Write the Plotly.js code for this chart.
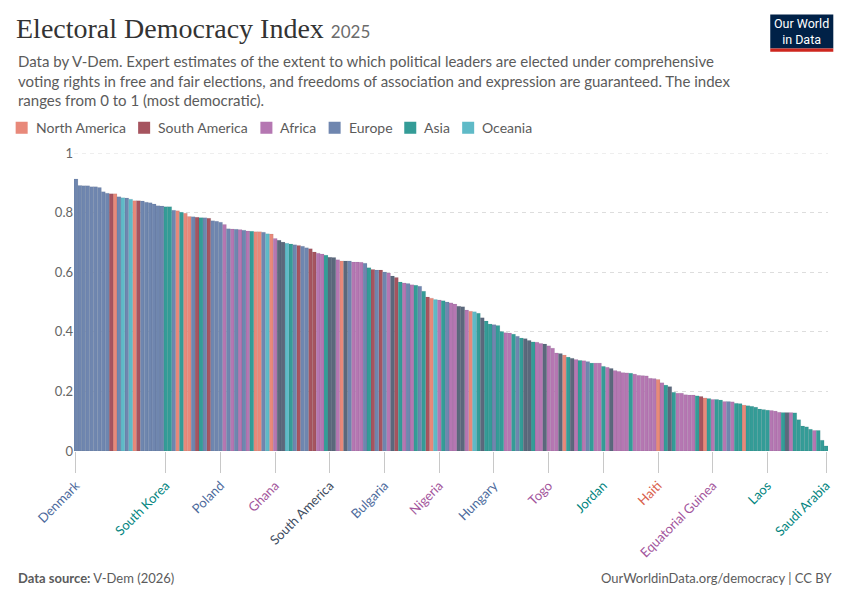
<!DOCTYPE html>
<html>
<head>
<meta charset="utf-8">
<script src="https://cdn.plot.ly/plotly-3.0.1.min.js"></script>
<style>
  html, body { margin: 0; padding: 0; background: #ffffff; }
  #chart { width: 850px; height: 600px; }
</style>
</head>
<body>
<div id="chart"></div>
<script>
// ---------- DATA ----------
// Bars are ranked from most to least democratic (rank 0 = Denmark, rank 192 = Saudi Arabia)
const values = [
  0.913,0.891,0.890,0.890,0.887,0.887,0.884,0.870,0.865,0.863,
  0.863,0.853,0.850,0.849,0.845,0.840,0.840,0.839,0.835,0.833,
  0.829,0.823,0.822,0.820,0.820,0.808,0.806,0.801,0.798,0.787,
  0.786,0.784,0.783,0.783,0.781,0.773,0.771,0.768,0.760,0.746,
  0.745,0.744,0.743,0.741,0.738,0.737,0.736,0.736,0.734,0.729,
  0.728,0.713,0.707,0.701,0.697,0.695,0.692,0.690,0.687,0.682,
  0.679,0.668,0.664,0.661,0.657,0.650,0.649,0.642,0.638,0.638,
  0.638,0.634,0.634,0.633,0.630,0.615,0.609,0.607,0.607,0.601,
  0.597,0.587,0.582,0.567,0.564,0.562,0.558,0.556,0.553,0.536,
  0.517,0.513,0.508,0.507,0.504,0.500,0.497,0.493,0.486,0.484,
  0.473,0.469,0.467,0.462,0.447,0.436,0.426,0.424,0.421,0.401,
  0.397,0.396,0.392,0.385,0.379,0.377,0.371,0.366,0.365,0.361,
  0.359,0.353,0.345,0.329,0.327,0.322,0.315,0.311,0.307,0.304,
  0.303,0.300,0.295,0.295,0.295,0.284,0.281,0.277,0.270,0.267,
  0.263,0.262,0.261,0.258,0.254,0.253,0.252,0.244,0.243,0.240,
  0.229,0.221,0.216,0.197,0.194,0.194,0.189,0.188,0.188,0.185,
  0.183,0.178,0.176,0.173,0.173,0.171,0.166,0.166,0.165,0.160,
  0.159,0.154,0.152,0.150,0.147,0.141,0.139,0.137,0.136,0.134,
  0.130,0.129,0.129,0.129,0.128,0.105,0.084,0.081,0.073,0.069,
  0.069,0.036,0.017
];

// Region of each bar: N North America, S South America, F Africa, E Europe, A Asia, O Oceania, X aggregate/other
const regions = [
  'E','E','E','E','E','E','E','E','E','S',
  'N','E','O','E','O','N','S','E','E','E',
  'E','E','E','A','A','E','N','A','N','N',
  'E','S','A','E','S','E','E','E','F','E',
  'F','E','F','E','F','A','N','N','E','O',
  'N','F','X','X','O','A','E','S','E','E',
  'S','S','F','F','A','X','X','F','N','X',
  'E','F','F','F','E','A','S','E','S','E',
  'F','X','S','A','F','E','F','A','E','A',
  'S','N','O','F','A','E','F','F','X','X',
  'F','N','O','A','X','A','A','E','A','A',
  'F','F','A','E','A','X','X','A','F','F',
  'X','F','F','F','X','N','A','X','F','A',
  'F','E','A','F','F','A','F','X','F','F',
  'F','F','A','F','F','F','F','F','F','N',
  'F','A','X','A','F','F','F','F','F','A',
  'S','N','A','F','A','A','F','E','F','A',
  'A','N','A','A','A','A','A','A','F','F',
  'F','A','X','F','A','A','A','A','A','F',
  'A','A','A'
];

const regionKeys   = ['N', 'S', 'F', 'E', 'A', 'O', 'X'];
const regionNames  = ['North America', 'South America', 'Africa', 'Europe', 'Asia', 'Oceania', 'World regions'];
const barColors    = ['#E8897A', '#A6545F', '#B577B2', '#6F86AF', '#349C97', '#5FBAC7', '#5B687C'];
const labelColors  = ['#D9604C', '#932834', '#A2559C', '#4C6A9C', '#00847E', '#2E9DAD', '#3D4B5E'];

// Labelled bars on the x axis
const labelRanks = [0, 23, 37, 51, 65, 79, 93, 107, 121, 135, 149, 163, 177, 192];
const labelNames = ['Denmark', 'South Korea', 'Poland', 'Ghana', 'South America', 'Bulgaria',
                    'Nigeria', 'Hungary', 'Togo', 'Jordan', 'Haiti', 'Equatorial Guinea',
                    'Laos', 'Saudi Arabia'];

const yTickVals  = [0, 0.2, 0.4, 0.6, 0.8, 1];
const yTickTexts = ['0', '0.2', '0.4', '0.6', '0.8', '1'];

// ---------- LAYOUT GEOMETRY ----------
const W = 850, H = 600;
const M = { l: 74.3, r: 22.3, t: 153.2, b: 149.3 };
const PW = W - M.l - M.r, PH = H - M.t - M.b;
const px2x = p => (p - M.l) / PW;
const py2y = p => (H - M.b - p) / PH;

const ranks = values.map((v, i) => i);

// ---------- TRACES ----------
const traces = regionKeys.map((key, k) => {
  const idx = ranks.filter(i => regions[i] === key);
  return {
    type: 'bar',
    name: regionNames[k],
    x: idx,
    y: idx.map(i => values[i]),
    width: 1.0,
    marker: { color: barColors[k], line: { width: 0.4, color: 'rgba(40,50,70,0.18)' } },
    showlegend: false,
    hoverinfo: 'skip'
  };
});

// colored tick labels
const tickText = labelRanks.map((r, j) => {
  const k = regionKeys.indexOf(regions[r]);
  return '<span style="color:' + labelColors[k] + '">' + labelNames[j] + '</span>';
});

// ---------- MANUAL LEGEND ----------
const measure = (() => {
  const c = document.createElement('canvas').getContext('2d');
  return (txt, font) => { c.font = font; return c.measureText(txt).width; };
})();

const shapes = [];
const annotations = [];

// dashed gridline at the top of the range (Plotly skips the edge gridline)
shapes.push({ type: 'line', xref: 'paper', yref: 'y', layer: 'below',
  x0: 0, x1: 1, y0: 1, y1: 1, line: { color: '#dddddd', width: 1, dash: '4px,4px' } });

let lx = 16;
const legY = 128;
for (let k = 0; k < 6; k++) {
  shapes.push({ type: 'rect', xref: 'paper', yref: 'paper', layer: 'above',
    x0: px2x(lx), x1: px2x(lx + 12), y0: py2y(legY + 6), y1: py2y(legY - 6),
    fillcolor: barColors[k], line: { width: 0 } });
  annotations.push({ xref: 'paper', yref: 'paper', x: px2x(lx + 18), y: py2y(legY),
    xanchor: 'left', yanchor: 'middle', showarrow: false, text: regionNames[k],
    font: { family: 'Lato', size: 14, color: '#5b5b5b' } });
  lx += 18 + measure(regionNames[k], '14px Lato') + 14;
}

// subtitle
annotations.push({ xref: 'paper', yref: 'paper', x: px2x(16), y: py2y(50),
  xanchor: 'left', yanchor: 'top', align: 'left', showarrow: false,
  text: 'Data by V-Dem. Expert estimates of the extent to which political leaders are elected under comprehensive<br>' +
        'voting rights in free and fair elections, and freedoms of association and expression are guaranteed. The index<br>' +
        'ranges from 0 to 1 (most democratic).',
  font: { family: 'Lato', size: 15, color: '#5b5b5b' } });

// footer
annotations.push({ xref: 'paper', yref: 'paper', x: px2x(16), y: py2y(577),
  xanchor: 'left', yanchor: 'middle', showarrow: false,
  text: '<b>Data source:</b> V-Dem (2026)',
  font: { family: 'Lato', size: 13, color: '#5b5b5b' } });
annotations.push({ xref: 'paper', yref: 'paper', x: px2x(834), y: py2y(577),
  xanchor: 'right', yanchor: 'middle', showarrow: false,
  text: 'OurWorldinData.org/democracy | CC BY',
  font: { family: 'Lato', size: 13, color: '#5b5b5b' } });

// logo
shapes.push({ type: 'rect', xref: 'paper', yref: 'paper', layer: 'above',
  x0: px2x(770), x1: px2x(833), y0: py2y(49), y1: py2y(15),
  fillcolor: '#002147', line: { width: 0 } });
shapes.push({ type: 'rect', xref: 'paper', yref: 'paper', layer: 'above',
  x0: px2x(770), x1: px2x(833), y0: py2y(52), y1: py2y(49),
  fillcolor: '#CE261E', line: { width: 0 } });
annotations.push({ xref: 'paper', yref: 'paper', x: px2x(801.5), y: py2y(32),
  xanchor: 'center', yanchor: 'middle', showarrow: false,
  text: 'Our World<br>in Data',
  font: { family: 'Liberation Sans Narrow, Roboto', size: 12.5, color: '#ffffff' } });

const layout = {
  width: W, height: H,
  margin: { l: M.l, r: M.r, t: M.t, b: M.b, pad: 0 },
  paper_bgcolor: '#ffffff', plot_bgcolor: '#ffffff',
  barmode: 'overlay', bargap: 0,
  showlegend: false,
  hovermode: false,
  title: {
    text: 'Electoral Democracy Index <span style="font-family:Lato;font-size:17px;color:#6b6b6b">2025</span>',
    font: { family: 'Liberation Serif', size: 28, color: '#333333' },
    xref: 'container', yref: 'container',
    x: 16 / W, xanchor: 'left', y: 1 - 18 / H, yanchor: 'top', pad: { t: 0, l: 0 }
  },
  xaxis: {
    range: [-0.5, values.length - 0.5],
    tickmode: 'array', tickvals: labelRanks, ticktext: tickText,
    tickangle: -45, ticks: 'outside', ticklen: 21, tickcolor: '#c8c8c8', tickwidth: 1,
    tickfont: { family: 'Lato', size: 13 },
    showgrid: false, zeroline: false, showline: false, fixedrange: true
  },
  yaxis: {
    range: [0, 1],
    tickmode: 'array', tickvals: yTickVals, ticktext: yTickTexts,
    tickfont: { family: 'Lato', size: 13, color: '#666666' },
    showgrid: true, gridcolor: '#dddddd', gridwidth: 1, griddash: '4px,4px',
    zeroline: false, showline: false, ticks: '', fixedrange: true
  },
  shapes: shapes,
  annotations: annotations
};

Plotly.newPlot('chart', traces, layout, { displayModeBar: false, staticPlot: true });
</script>
</body>
</html>
